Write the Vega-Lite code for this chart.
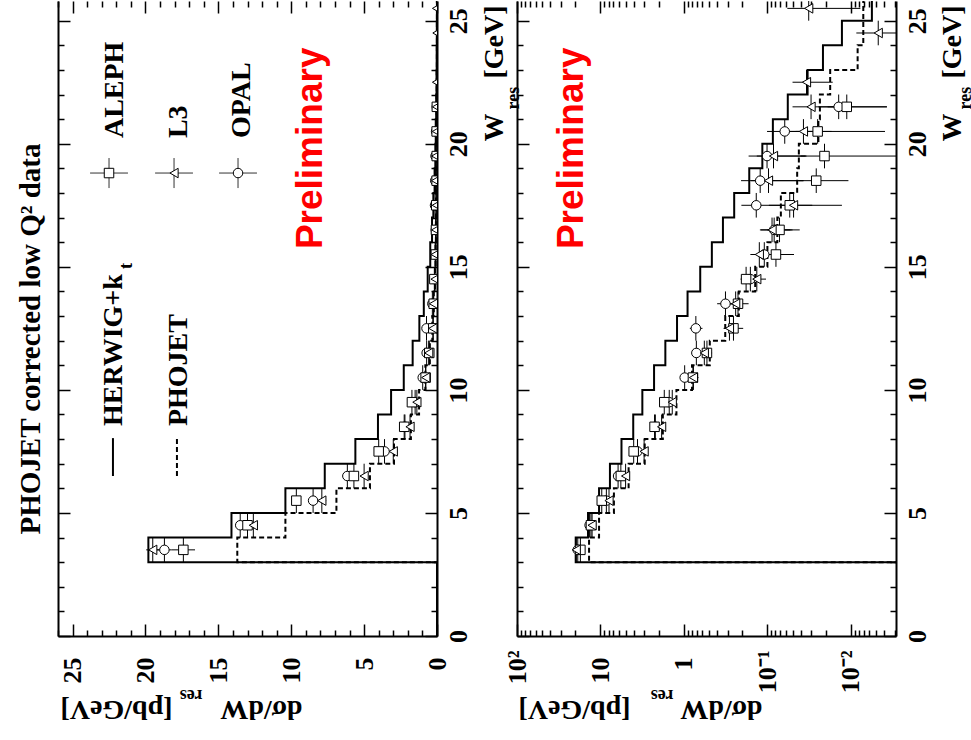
{
 "$schema": "https://vega.github.io/schema/vega-lite/v6.json",
 "background": "white",
 "padding": {"left": 16, "top": 0, "right": 0, "bottom": 25},
 "bounds": "flush",
 "spacing": 80,
 "resolve": {"scale": {"x": "independent", "y": "independent"}},
 "config": {
  "view": {"stroke": null},
  "axis": {"grid": false, "domain": false, "ticks": false, "labels": false, "tickColor": "black", "tickWidth": 1.5, "domainColor": "black", "domainWidth": 2, "labelFont": "Liberation Serif", "labelFontWeight": "bold", "labelFontSize": 26, "labelColor": "black", "labelFlush": false, "labelOverlap": false, "labelBound": false, "titleFont": "Liberation Serif", "titleFontWeight": "bold", "titleFontSize": 28, "titleColor": "black", "titlePadding": 0}
 },
 "datasets": {
  "herwig": [{"W":0,"v":0.0001},{"W":3,"v":19.8},{"W":4,"v":14.1},{"W":5,"v":10.4},{"W":6,"v":7.7},{"W":7,"v":5.6},{"W":8,"v":4.05},{"W":9,"v":3.15},{"W":10,"v":2.28},{"W":11,"v":1.67},{"W":12,"v":1.21},{"W":13,"v":0.905},{"W":14,"v":0.638},{"W":15,"v":0.463},{"W":16,"v":0.341},{"W":17,"v":0.25},{"W":18,"v":0.165},{"W":19,"v":0.115},{"W":20,"v":0.086},{"W":21,"v":0.057},{"W":22,"v":0.033},{"W":23,"v":0.0216},{"W":24,"v":0.0128},{"W":25,"v":0.0056},{"W":26,"v":0.004}],
  "phojet": [{"W":0,"v":0.0001},{"W":3,"v":13.7},{"W":4,"v":10.4},{"W":5,"v":6.9},{"W":6,"v":4.6},{"W":7,"v":2.95},{"W":8,"v":1.79},{"W":9,"v":1.23},{"W":10,"v":0.8},{"W":11,"v":0.49},{"W":12,"v":0.32},{"W":13,"v":0.22},{"W":14,"v":0.14},{"W":15,"v":0.1},{"W":16,"v":0.076},{"W":17,"v":0.069},{"W":18,"v":0.044},{"W":19,"v":0.042},{"W":20,"v":0.0245},{"W":21,"v":0.0235},{"W":22,"v":0.0177},{"W":23,"v":0.0083},{"W":24,"v":0.0071},{"W":25,"v":0.0071},{"W":26,"v":0.006}],
  "points": [
   {"exp":"OPAL","W":3.5,"Wlo":3,"Whi":4,"v":18.7,"lo":18.2,"hi":19.2},
   {"exp":"OPAL","W":4.5,"Wlo":4,"Whi":5,"v":13.5,"lo":13.2,"hi":13.8},
   {"exp":"OPAL","W":5.5,"Wlo":5,"Whi":6,"v":8.5,"lo":8.2,"hi":8.8},
   {"exp":"OPAL","W":6.5,"Wlo":6,"Whi":7,"v":6.15,"lo":5.85,"hi":6.45},
   {"exp":"OPAL","W":7.5,"Wlo":7,"Whi":8,"v":3.6,"lo":3.4,"hi":3.8},
   {"exp":"OPAL","W":8.5,"Wlo":8,"Whi":9,"v":2.2,"lo":2.05,"hi":2.35},
   {"exp":"OPAL","W":9.5,"Wlo":9,"Whi":10,"v":1.5,"lo":1.38,"hi":1.62},
   {"exp":"OPAL","W":10.5,"Wlo":10,"Whi":11,"v":0.98,"lo":0.86,"hi":1.1},
   {"exp":"OPAL","W":11.5,"Wlo":11,"Whi":12,"v":0.71,"lo":0.62,"hi":0.8},
   {"exp":"OPAL","W":12.5,"Wlo":12,"Whi":13,"v":0.72,"lo":0.6,"hi":0.85},
   {"exp":"OPAL","W":13.5,"Wlo":13,"Whi":14,"v":0.318,"lo":0.25,"hi":0.4},
   {"exp":"OPAL","W":14.5,"Wlo":14,"Whi":15,"v":0.16,"lo":0.13,"hi":0.19},
   {"exp":"OPAL","W":15.5,"Wlo":15,"Whi":16,"v":0.109,"lo":0.08,"hi":0.14},
   {"exp":"OPAL","W":16.5,"Wlo":16,"Whi":17,"v":0.083,"lo":0.05,"hi":0.12},
   {"exp":"OPAL","W":17.5,"Wlo":17,"Whi":18,"v":0.136,"lo":0.068,"hi":0.205},
   {"exp":"OPAL","W":18.5,"Wlo":18,"Whi":19,"v":0.122,"lo":0.037,"hi":0.207},
   {"exp":"OPAL","W":19.5,"Wlo":19,"Whi":20,"v":0.101,"lo":0.034,"hi":0.168},
   {"exp":"OPAL","W":20.5,"Wlo":20,"Whi":21,"v":0.062,"lo":0.023,"hi":0.101},
   {"exp":"OPAL","W":21.5,"Wlo":21,"Whi":22,"v":0.014,"lo":0.0037,"hi":0.0245},
   {"exp":"ALEPH","W":3.5,"Wlo":3,"Whi":4,"v":17.4,"lo":16.6,"hi":18.2},
   {"exp":"ALEPH","W":4.5,"Wlo":4,"Whi":5,"v":13.0,"lo":12.7,"hi":13.3},
   {"exp":"ALEPH","W":5.5,"Wlo":5,"Whi":6,"v":9.65,"lo":9.35,"hi":9.95},
   {"exp":"ALEPH","W":6.5,"Wlo":6,"Whi":7,"v":5.7,"lo":5.45,"hi":5.95},
   {"exp":"ALEPH","W":7.5,"Wlo":7,"Whi":8,"v":4.0,"lo":3.8,"hi":4.2},
   {"exp":"ALEPH","W":8.5,"Wlo":8,"Whi":9,"v":2.25,"lo":2.1,"hi":2.4},
   {"exp":"ALEPH","W":9.5,"Wlo":9,"Whi":10,"v":1.72,"lo":1.6,"hi":1.84},
   {"exp":"ALEPH","W":10.5,"Wlo":10,"Whi":11,"v":0.78,"lo":0.7,"hi":0.86},
   {"exp":"ALEPH","W":11.5,"Wlo":11,"Whi":12,"v":0.53,"lo":0.46,"hi":0.6},
   {"exp":"ALEPH","W":12.5,"Wlo":12,"Whi":13,"v":0.255,"lo":0.195,"hi":0.315},
   {"exp":"ALEPH","W":13.5,"Wlo":13,"Whi":14,"v":0.225,"lo":0.168,"hi":0.282},
   {"exp":"ALEPH","W":14.5,"Wlo":14,"Whi":15,"v":0.18,"lo":0.15,"hi":0.21},
   {"exp":"ALEPH","W":15.5,"Wlo":15,"Whi":16,"v":0.079,"lo":0.048,"hi":0.11},
   {"exp":"ALEPH","W":16.5,"Wlo":16,"Whi":17,"v":0.0716,"lo":0.041,"hi":0.1},
   {"exp":"ALEPH","W":17.5,"Wlo":17,"Whi":18,"v":0.054,"lo":0.0128,"hi":0.096},
   {"exp":"ALEPH","W":18.5,"Wlo":18,"Whi":19,"v":0.026,"lo":0.0107,"hi":0.042},
   {"exp":"ALEPH","W":19.5,"Wlo":19,"Whi":20,"v":0.0207,"lo":0.0015,"hi":0.04},
   {"exp":"ALEPH","W":20.5,"Wlo":20,"Whi":21,"v":0.025,"lo":0.0039,"hi":0.046},
   {"exp":"ALEPH","W":21.5,"Wlo":21,"Whi":22,"v":0.0112,"lo":0.0037,"hi":0.019},
   {"exp":"L3","W":3.5,"Wlo":3,"Whi":4,"v":19.5,"lo":19.05,"hi":19.95},
   {"exp":"L3","W":4.5,"Wlo":4,"Whi":5,"v":12.6,"lo":12.3,"hi":12.9},
   {"exp":"L3","W":5.5,"Wlo":5,"Whi":6,"v":7.9,"lo":7.6,"hi":8.2},
   {"exp":"L3","W":6.5,"Wlo":6,"Whi":7,"v":5.0,"lo":4.75,"hi":5.25},
   {"exp":"L3","W":7.5,"Wlo":7,"Whi":8,"v":3.0,"lo":2.8,"hi":3.2},
   {"exp":"L3","W":8.5,"Wlo":8,"Whi":9,"v":1.85,"lo":1.7,"hi":2.0},
   {"exp":"L3","W":9.5,"Wlo":9,"Whi":10,"v":1.38,"lo":1.26,"hi":1.5},
   {"exp":"L3","W":10.5,"Wlo":10,"Whi":11,"v":0.77,"lo":0.67,"hi":0.87},
   {"exp":"L3","W":11.5,"Wlo":11,"Whi":12,"v":0.57,"lo":0.49,"hi":0.65},
   {"exp":"L3","W":12.5,"Wlo":12,"Whi":13,"v":0.285,"lo":0.235,"hi":0.335},
   {"exp":"L3","W":13.5,"Wlo":13,"Whi":14,"v":0.24,"lo":0.2,"hi":0.28},
   {"exp":"L3","W":14.5,"Wlo":14,"Whi":15,"v":0.134,"lo":0.104,"hi":0.164},
   {"exp":"L3","W":15.5,"Wlo":15,"Whi":16,"v":0.125,"lo":0.09,"hi":0.16},
   {"exp":"L3","W":16.5,"Wlo":16,"Whi":17,"v":0.088,"lo":0.053,"hi":0.123},
   {"exp":"L3","W":17.5,"Wlo":17,"Whi":18,"v":0.0486,"lo":0.029,"hi":0.068},
   {"exp":"L3","W":18.5,"Wlo":18,"Whi":19,"v":0.097,"lo":0.037,"hi":0.157},
   {"exp":"L3","W":19.5,"Wlo":19,"Whi":20,"v":0.0845,"lo":0.035,"hi":0.134},
   {"exp":"L3","W":20.5,"Wlo":20,"Whi":21,"v":0.037,"lo":0.017,"hi":0.057},
   {"exp":"L3","W":21.5,"Wlo":21,"Whi":22,"v":0.03,"lo":0.01,"hi":0.05},
   {"exp":"L3","W":22.5,"Wlo":22,"Whi":23,"v":0.034,"lo":0.0165,"hi":0.05},
   {"exp":"L3","W":24.5,"Wlo":24,"Whi":25,"v":0.0047,"lo":0.0007,"hi":0.0086},
   {"exp":"L3","W":25.5,"Wlo":25,"Whi":26,"v":0.032,"lo":0.0077,"hi":0.0577}
  ]
 },
 "hconcat": [
  {
   "width": 379, "height": 635,
   "resolve": {"axis": {"x": "independent", "y": "independent"}},
   "layer": [
    {
     "data": {"name": "phojet"},
     "mark": {"type": "line", "interpolate": "step-before", "color": "black", "strokeWidth": 2, "strokeDash": [5, 3], "clip": true},
     "encoding": {
      "x": {"field": "v", "type": "quantitative", "scale": {"type": "linear", "domain": [0, 26], "reverse": true, "nice": false, "zero": false},
            "axis": {"orient": "bottom", "values": [0,1,2,3,4,5,6,7,8,9,10,11,12,13,14,15,16,17,18,19,20,21,22,23,24,25,26], "ticks": true, "tickSize": {"condition": {"test": "datum.value % 5 === 0", "value": -12}, "value": -6}, "title": "res", "titleFontSize": 18, "titleAngle": 180, "titleAlign": "left", "titleBaseline": "alphabetic", "titleX": 144, "titleY": 53}},
      "y": {"field": "W", "type": "quantitative", "scale": {"type": "linear", "domain": [0, 25.8], "nice": false, "zero": false},
            "axis": {"orient": "right", "values": [0,1,2,3,4,5,6,7,8,9,10,11,12,13,14,15,16,17,18,19,20,21,22,23,24,25], "ticks": true, "tickSize": {"condition": {"test": "datum.value % 5 === 0", "value": -12}, "value": -6}, "title": "res", "titleFontSize": 18, "titleAngle": 270, "titleAlign": "left", "titleBaseline": "alphabetic", "titleX": 81, "titleY": 108}},
      "order": {"field": "W", "type": "quantitative"}
     }
    },
    {
     "data": {"name": "points"},
     "mark": {"type": "rule", "color": "black", "strokeWidth": 1, "clip": true},
     "encoding": {
      "x": {"field": "v", "type": "quantitative", "scale": {"type": "linear", "domain": [0, 26], "reverse": true, "nice": false, "zero": false},
            "axis": {"orient": "top", "values": [0,1,2,3,4,5,6,7,8,9,10,11,12,13,14,15,16,17,18,19,20,21,22,23,24,25,26], "ticks": true, "tickSize": {"condition": {"test": "datum.value % 5 === 0", "value": -12}, "value": -6}, "title": "[pb/GeV]", "titleAngle": 180, "titleAlign": "right", "titleBaseline": "alphabetic", "titleX": 2, "titleY": 699}},
      "y": {"field": "Wlo", "type": "quantitative", "scale": {"type": "linear", "domain": [0, 25.8], "nice": false, "zero": false},
            "axis": {"orient": "left", "values": [0,1,2,3,4,5,6,7,8,9,10,11,12,13,14,15,16,17,18,19,20,21,22,23,24,25], "ticks": true, "domain": true, "tickSize": {"condition": {"test": "datum.value % 5 === 0", "value": -12}, "value": -6}, "title": "[GeV]", "titleAngle": 270, "titleAlign": "left", "titleBaseline": "alphabetic", "titleX": 444, "titleY": 77}},
      "y2": {"field": "Whi"}
     }
    },
    {
     "data": {"name": "points"},
     "mark": {"type": "rule", "color": "black", "strokeWidth": 1, "clip": true},
     "encoding": {
      "x": {"field": "lo", "type": "quantitative", "scale": {"type": "linear", "domain": [0, 26], "reverse": true, "nice": false, "zero": false}, "axis": null},
      "x2": {"field": "hi"},
      "y": {"field": "W", "type": "quantitative", "scale": {"type": "linear", "domain": [0, 25.8], "nice": false, "zero": false},
            "axis": {"orient": "left", "title": "PHOJET corrected low Q² data", "titleFontSize": 29, "titleAngle": 270, "titleAlign": "left", "titleBaseline": "alphabetic", "titleX": -18.5, "titleY": 533}}
     }
    },
    {
     "data": {"values": [{}]},
     "layer": [
      {
       "data": {"name": "herwig"},
       "mark": {"type": "line", "interpolate": "step-before", "color": "black", "strokeWidth": 2, "clip": true},
       "encoding": {
        "x": {"field": "v", "type": "quantitative", "scale": {"type": "linear", "domain": [0, 26], "reverse": true, "nice": false, "zero": false},
              "axis": {"orient": "bottom", "values": [0,5,10,15,20,25], "labels": true, "labelAngle": 270, "labelAlign": "right", "labelBaseline": "middle", "labelPadding": 21, "domain": true, "tickSize": 0, "title": "dσ/dW", "titleAngle": 180, "titleAlign": "left", "titleBaseline": "alphabetic", "titleX": 244, "titleY": 64}},
        "y": {"field": "W", "type": "quantitative", "scale": {"type": "linear", "domain": [0, 25.8], "nice": false, "zero": false},
              "axis": {"orient": "right", "values": [0,5,10,15,20,25], "labels": true, "labelAngle": 270, "labelAlign": "center", "labelBaseline": "top", "labelPadding": 8, "domain": true, "tickSize": 0, "title": "W", "titleAngle": 270, "titleAlign": "left", "titleBaseline": "alphabetic", "titleX": 65, "titleY": 140}},
        "order": {"field": "W", "type": "quantitative"}
       }
      },
      {
       "data": {"name": "points"},
       "mark": {"type": "point", "filled": true, "fill": "white", "stroke": "black", "strokeWidth": 1, "size": 90, "opacity": 1, "clip": true},
       "encoding": {
        "x": {"field": "v", "type": "quantitative"},
        "y": {"field": "W", "type": "quantitative"},
        "shape": {"field": "exp", "type": "nominal", "scale": {"domain": ["ALEPH", "L3", "OPAL"], "range": ["square", "triangle-left", "circle"]}, "legend": null}
       }
      },
      {"mark": {"type": "rule", "color": "black", "strokeWidth": 2}, "encoding": {"x": {"datum": 22.23}, "y": {"datum": 6.5}, "y2": {"datum": 8.04}}},
      {"mark": {"type": "rule", "color": "black", "strokeWidth": 2, "strokeDash": [5, 3]}, "encoding": {"x": {"datum": 17.84}, "y": {"datum": 6.5}, "y2": {"datum": 8.04}}},
      {"mark": {"type": "text", "text": "HERWIG+k", "angle": 270, "align": "left", "baseline": "alphabetic", "font": "Liberation Serif", "fontWeight": "bold", "fontSize": 28, "color": "black"}, "encoding": {"x": {"datum": 21.61}, "y": {"datum": 8.53}}},
      {"mark": {"type": "text", "text": "t", "angle": 270, "align": "left", "baseline": "alphabetic", "font": "Liberation Serif", "fontWeight": "bold", "fontSize": 18, "color": "black"}, "encoding": {"x": {"datum": 20.92}, "y": {"datum": 14.91}}},
      {"mark": {"type": "text", "text": "PHOJET", "angle": 270, "align": "left", "baseline": "alphabetic", "font": "Liberation Serif", "fontWeight": "bold", "fontSize": 28, "color": "black"}, "encoding": {"x": {"datum": 17.15}, "y": {"datum": 8.53}}},
      {"mark": {"type": "rule", "color": "#333", "strokeWidth": 1}, "encoding": {"x": {"datum": 23.8}, "x2": {"datum": 21.2}, "y": {"datum": 18.81}}},
      {"mark": {"type": "rule", "color": "#333", "strokeWidth": 1}, "encoding": {"x": {"datum": 22.5}, "y": {"datum": 18.2}, "y2": {"datum": 19.42}}},
      {"mark": {"type": "rule", "color": "#333", "strokeWidth": 1}, "encoding": {"x": {"datum": 19.34}, "x2": {"datum": 16.74}, "y": {"datum": 18.81}}},
      {"mark": {"type": "rule", "color": "#333", "strokeWidth": 1}, "encoding": {"x": {"datum": 18.04}, "y": {"datum": 18.2}, "y2": {"datum": 19.42}}},
      {"mark": {"type": "rule", "color": "#333", "strokeWidth": 1}, "encoding": {"x": {"datum": 14.95}, "x2": {"datum": 12.35}, "y": {"datum": 18.81}}},
      {"mark": {"type": "rule", "color": "#333", "strokeWidth": 1}, "encoding": {"x": {"datum": 13.65}, "y": {"datum": 18.2}, "y2": {"datum": 19.42}}},
      {"mark": {"type": "point", "shape": "square", "filled": true, "fill": "white", "stroke": "black", "strokeWidth": 1, "size": 90, "opacity": 1}, "encoding": {"x": {"datum": 22.5}, "y": {"datum": 18.81}}},
      {"mark": {"type": "point", "shape": "triangle-left", "filled": true, "fill": "white", "stroke": "black", "strokeWidth": 1, "size": 90, "opacity": 1}, "encoding": {"x": {"datum": 18.04}, "y": {"datum": 18.81}}},
      {"mark": {"type": "point", "shape": "circle", "filled": true, "fill": "white", "stroke": "black", "strokeWidth": 1, "size": 90, "opacity": 1}, "encoding": {"x": {"datum": 13.65}, "y": {"datum": 18.81}}},
      {"mark": {"type": "text", "text": "ALEPH", "angle": 270, "align": "left", "baseline": "alphabetic", "font": "Liberation Serif", "fontWeight": "bold", "fontSize": 28, "color": "black"}, "encoding": {"x": {"datum": 21.54}, "y": {"datum": 20.23}}},
      {"mark": {"type": "text", "text": "L3", "angle": 270, "align": "left", "baseline": "alphabetic", "font": "Liberation Serif", "fontWeight": "bold", "fontSize": 28, "color": "black"}, "encoding": {"x": {"datum": 17.15}, "y": {"datum": 20.23}}},
      {"mark": {"type": "text", "text": "OPAL", "angle": 270, "align": "left", "baseline": "alphabetic", "font": "Liberation Serif", "fontWeight": "bold", "fontSize": 28, "color": "black"}, "encoding": {"x": {"datum": 12.83}, "y": {"datum": 20.23}}},
      {"mark": {"type": "text", "text": "Preliminary", "angle": 270, "align": "left", "baseline": "alphabetic", "font": "Liberation Sans", "fontWeight": "bold", "fontSize": 37, "color": "#ff0000"}, "encoding": {"x": {"datum": 7.89}, "y": {"datum": 15.72}}}
     ]
    }
   ]
  },
  {
   "width": 379, "height": 635,
   "resolve": {"axis": {"x": "independent", "y": "independent"}},
   "layer": [
    {
     "data": {"name": "phojet"},
     "mark": {"type": "line", "interpolate": "step-before", "color": "black", "strokeWidth": 2, "strokeDash": [5, 3], "clip": true},
     "encoding": {
      "x": {"field": "v", "type": "quantitative", "scale": {"type": "log", "domain": [0.00288, 100], "reverse": true, "nice": false},
            "axis": {"orient": "bottom", "values": [0.003,0.004,0.005,0.006,0.007,0.008,0.009,0.01,0.02,0.03,0.04,0.05,0.06,0.07,0.08,0.09,0.1,0.2,0.3,0.4,0.5,0.6,0.7,0.8,0.9,1,2,3,4,5,6,7,8,9,10,20,30,40,50,60,70,80,90,100], "ticks": true, "tickSize": {"condition": {"test": "abs(log(datum.value)/LN10 - round(log(datum.value)/LN10)) < 0.001", "value": -12}, "value": -6}, "title": "res", "titleFontSize": 18, "titleAngle": 180, "titleAlign": "left", "titleBaseline": "alphabetic", "titleX": 156, "titleY": 53}},
      "y": {"field": "W", "type": "quantitative", "scale": {"type": "linear", "domain": [0, 25.8], "nice": false, "zero": false},
            "axis": {"orient": "right", "values": [0,1,2,3,4,5,6,7,8,9,10,11,12,13,14,15,16,17,18,19,20,21,22,23,24,25], "ticks": true, "tickSize": {"condition": {"test": "datum.value % 5 === 0", "value": -12}, "value": -6}, "title": "res", "titleFontSize": 18, "titleAngle": 270, "titleAlign": "left", "titleBaseline": "alphabetic", "titleX": 74, "titleY": 108}},
      "order": {"field": "W", "type": "quantitative"}
     }
    },
    {
     "data": {"name": "points"},
     "mark": {"type": "rule", "color": "black", "strokeWidth": 1, "clip": true},
     "encoding": {
      "x": {"field": "v", "type": "quantitative", "scale": {"type": "log", "domain": [0.00288, 100], "reverse": true, "nice": false},
            "axis": {"orient": "top", "values": [0.003,0.004,0.005,0.006,0.007,0.008,0.009,0.01,0.02,0.03,0.04,0.05,0.06,0.07,0.08,0.09,0.1,0.2,0.3,0.4,0.5,0.6,0.7,0.8,0.9,1,2,3,4,5,6,7,8,9,10,20,30,40,50,60,70,80,90,100], "ticks": true, "tickSize": {"condition": {"test": "abs(log(datum.value)/LN10 - round(log(datum.value)/LN10)) < 0.001", "value": -12}, "value": -6}, "title": "[pb/GeV]", "titleAngle": 180, "titleAlign": "right", "titleBaseline": "alphabetic", "titleX": 1, "titleY": 699}},
      "y": {"field": "Wlo", "type": "quantitative", "scale": {"type": "linear", "domain": [0, 25.8], "nice": false, "zero": false},
            "axis": {"orient": "left", "values": [0,1,2,3,4,5,6,7,8,9,10,11,12,13,14,15,16,17,18,19,20,21,22,23,24,25], "ticks": true, "domain": true, "tickSize": {"condition": {"test": "datum.value % 5 === 0", "value": -12}, "value": -6}, "title": "[GeV]", "titleAngle": 270, "titleAlign": "left", "titleBaseline": "alphabetic", "titleX": 443, "titleY": 77}},
      "y2": {"field": "Whi"}
     }
    },
    {
     "data": {"name": "points"},
     "mark": {"type": "rule", "color": "black", "strokeWidth": 1, "clip": true},
     "encoding": {
      "x": {"field": "lo", "type": "quantitative", "scale": {"type": "log", "domain": [0.00288, 100], "reverse": true, "nice": false}, "axis": null},
      "x2": {"field": "hi"},
      "y": {"field": "W", "type": "quantitative", "scale": {"type": "linear", "domain": [0, 25.8], "nice": false, "zero": false}, "axis": null}
     }
    },
    {
     "data": {"values": [{}]},
     "layer": [
      {
       "data": {"name": "herwig"},
       "mark": {"type": "line", "interpolate": "step-before", "color": "black", "strokeWidth": 2, "clip": true},
       "encoding": {
        "x": {"field": "v", "type": "quantitative", "scale": {"type": "log", "domain": [0.00288, 100], "reverse": true, "nice": false},
              "axis": {"orient": "bottom", "values": [0.01, 0.1, 1, 10, 100], "labels": true, "labelExpr": "datum.value > 50 ? '10²' : datum.value > 5 ? '10' : datum.value > 0.5 ? '1' : datum.value > 0.05 ? '10⁻¹' : '10⁻²'", "labelAngle": 270, "labelAlign": "right", "labelBaseline": "middle", "labelPadding": {"condition": {"test": "datum.value > 50 || datum.value < 0.5", "value": 14}, "value": 21}, "domain": true, "tickSize": 0, "title": "dσ/dW", "titleAngle": 180, "titleAlign": "left", "titleBaseline": "alphabetic", "titleX": 245, "titleY": 64}},
        "y": {"field": "W", "type": "quantitative", "scale": {"type": "linear", "domain": [0, 25.8], "nice": false, "zero": false},
              "axis": {"orient": "right", "values": [0,5,10,15,20,25], "labels": true, "labelAngle": 270, "labelAlign": "center", "labelBaseline": "top", "labelPadding": 8, "domain": true, "tickSize": 0, "title": "W", "titleAngle": 270, "titleAlign": "left", "titleBaseline": "alphabetic", "titleX": 64, "titleY": 140}},
        "order": {"field": "W", "type": "quantitative"}
       }
      },
      {
       "data": {"name": "points"},
       "mark": {"type": "point", "filled": true, "fill": "white", "stroke": "black", "strokeWidth": 1, "size": 90, "opacity": 1, "clip": true},
       "encoding": {
        "x": {"field": "v", "type": "quantitative"},
        "y": {"field": "W", "type": "quantitative"},
        "shape": {"field": "exp", "type": "nominal", "scale": {"domain": ["ALEPH", "L3", "OPAL"], "range": ["square", "triangle-left", "circle"]}, "legend": null}
       }
      },
      {"mark": {"type": "text", "text": "Preliminary", "angle": 270, "align": "left", "baseline": "alphabetic", "font": "Liberation Sans", "fontWeight": "bold", "fontSize": 37, "color": "#ff0000"}, "encoding": {"x": {"datum": 16.2}, "y": {"datum": 15.72}}}
     ]
    }
   ]
  }
 ]
}
